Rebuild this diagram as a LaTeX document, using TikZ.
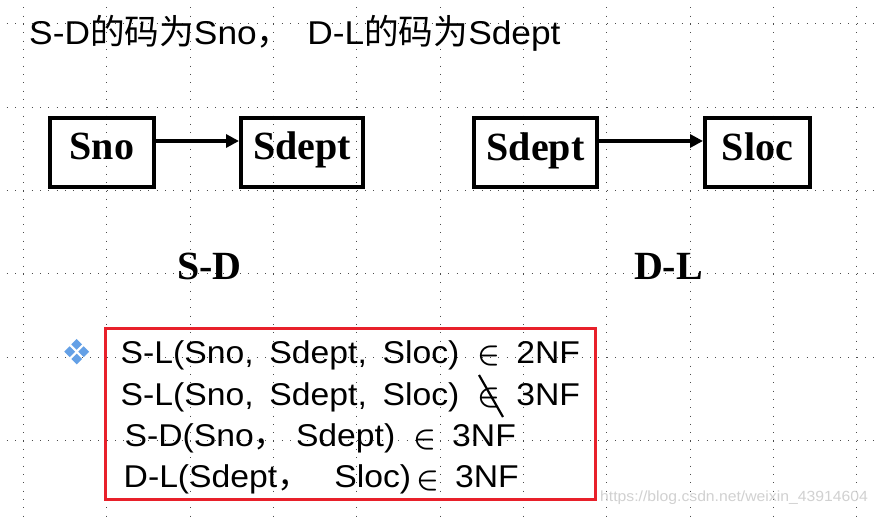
\documentclass[tikz,border=0pt]{standalone}
\usepackage{graphicx}
\usepackage{fontspec}
\setmainfont{Liberation Sans}[FakeStretch=1.07]
\newfontfamily\cjk{Noto Sans CJK SC}[Scale=1.05]
\newfontfamily\tnr{Liberation Serif}
\usetikzlibrary{arrows.meta}
\definecolor{redbox}{RGB}{232,32,42}
\definecolor{bulletblue}{RGB}{100,160,230}
\newcommand\wgap{\hspace{0.5em}}
\newcommand\egap{\hspace{18pt}}
\newcommand\elem{\resizebox{!}{17.5pt}{\boldmath$\in$}}
\begin{document}
\begin{tikzpicture}[x=1pt,y=-1pt,
  gridline/.style={line width=1pt, dash pattern=on 1pt off 7.333pt, black!70},
  fdbox/.style={draw, line width=4pt, inner sep=0pt, minimum height=69pt,
    font=\tnr\bfseries\fontsize{40}{40}\selectfont, text height=28pt, text depth=13pt},
  fdarrow/.style={line width=3.2pt, -{Triangle[length=13pt,width=13pt]}},
  lbl/.style={inner sep=0pt, anchor=base, font=\tnr\bfseries\fontsize{40}{40}\selectfont},
  txtline/.style={inner sep=0pt, anchor=base west, font=\fontsize{31.5}{36}\selectfont},
]
\useasboundingbox (0,0) rectangle (876,518);
\fill[white] (0,0) rectangle (876,518);
% background dotted grid
\foreach \k in {0,...,10} \draw[gridline] (23.4+83.333*\k,-1) -- (23.4+83.333*\k,518);
\foreach \k in {0,...,5} \draw[gridline] (-1.6,24+83.333*\k) -- (876,24+83.333*\k);

% title
\node[inner sep=0pt, anchor=base west, font=\fontsize{33}{40}\selectfont] (title) at (29,45)
  {S-D{\cjk 的码为}Sno{\cjk ，}\hspace{16pt}D-L{\cjk 的码为}Sdept};

% FD boxes
\node[fdbox, minimum width=104pt] (sno) at (102,152.5) {Sno};
\node[fdbox, minimum width=122pt] (sdepta) at (302,152.5) {Sdept};
\node[fdbox, minimum width=123pt] (sdeptb) at (535.5,153) {Sdept};
\node[fdbox, minimum width=105pt] (sloc) at (757.5,153) {Sloc};
\draw[fdarrow] ([yshift=11.5pt]sno.east) -- ([yshift=11.5pt]sdepta.west);
\draw[fdarrow] ([yshift=12pt]sdeptb.east) -- ([yshift=12pt]sloc.west);

% labels
\node[lbl] (lsd) at (209.5,280) {S-D};
\node[lbl] (ldl) at (668.5,280) {D-L};

% bullet
\foreach \dx/\dy in {0/-7.3, -7/0, 7/0, 0/7.3}
  \fill[bulletblue, shift={(76.7+\dx,351.7+\dy)}] (0,-5.4) -- (5.4,0) -- (0,5.4) -- (-5.4,0) -- cycle;

% red box
\node[draw=redbox, line width=3pt, inner sep=0pt, minimum width=490pt, minimum height=171pt] (rbox) at (350.5,414) {};

% text lines
\node[txtline] (la) at (120.5,364) {S-L(Sno,\wgap Sdept,\wgap Sloc)\egap\elem\hspace{16pt}2NF};
\node[txtline] (lb) at (120.5,405.5) {S-L(Sno,\wgap Sdept,\wgap Sloc)\egap\elem\hspace{16pt}3NF};
\node[txtline] (lc) at (124.5,447) {S-D(Sno{\cjk ，}\hspace{9pt}Sdept)\egap\elem\hspace{16pt}3NF};
\node[txtline] (ld) at (123.5,488) {D-L(Sdept{\cjk ，}\hspace{24pt}Sloc)\hspace{5pt}\elem\hspace{16pt}3NF};

% strike-through of the second membership sign
\draw[line width=2.2pt] (479,375) -- (503,417);

% watermark
\node[inner sep=0pt, anchor=west, text=black!18, font=\fontsize{14.7}{16}\selectfont] (wm) at (600,498)
  {https://blog.csdn.net/weixin\_43914604};
\end{tikzpicture}
\end{document}
